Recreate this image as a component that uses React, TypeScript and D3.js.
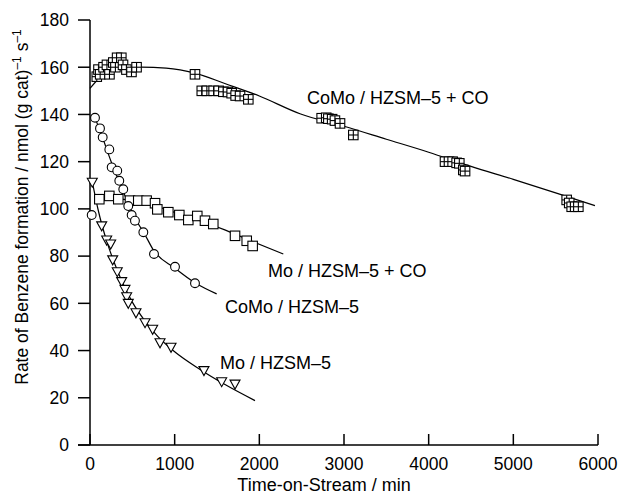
import React from "react";
import * as d3 from "d3";

// ---- Data (Time-on-Stream in min, Rate in nmol (g cat)^-1 s^-1) ----
const xTicks = [0, 1000, 2000, 3000, 4000, 5000, 6000];
const yTicks = [0, 20, 40, 60, 80, 100, 120, 140, 160, 180];

const comoCOPoints: [number, number][] = [
  [80, 156], [100, 159], [120, 157], [160, 160], [200, 161], [230, 157],
  [275, 162], [300, 160], [320, 164], [370, 164], [390, 161], [430, 159],
  [490, 158], [550, 160],
  [1240, 157], [1320, 150], [1380, 150], [1460, 150], [1520, 150], [1575, 149.6],
  [1630, 149.5], [1673, 149], [1720, 148], [1772, 147.8], [1870, 146.4],
  [2736, 138.4], [2790, 138.6], [2815, 138.2], [2860, 138], [2893, 137.4], [2953, 136.2],
  [3110, 131.3],
  [4193, 120], [4240, 120], [4283, 120], [4330, 119.5], [4362, 119.3], [4409, 116.5], [4430, 116],
  [5630, 103.8], [5660, 102.5], [5689, 100.9], [5730, 100.9], [5768, 100.9],
];
const comoCOFit: [number, number][] = [
  [0, 151], [100, 155], [300, 158.5], [600, 160], [900, 159.6], [1240, 157.5],
  [1600, 153], [2000, 147.8], [2480, 140.3], [3000, 135], [3500, 129.5],
  [4000, 124], [4500, 118], [5000, 112.5], [5500, 106.8], [5964, 101.4],
];

const moCOPoints: [number, number][] = [
  [110, 104.1], [228, 105.5], [334, 104.1], [472, 103.5], [570, 103.5], [669, 103.5],
  [768, 102.4], [795, 99.8], [925, 98.6], [1055, 97.4], [1161, 95.3], [1267, 97],
  [1358, 95], [1456, 93.6], [1713, 88.6], [1851, 86.5], [1921, 84.3],
];
const moCOFit: [number, number][] = [
  [100, 105], [400, 104], [700, 102], [1000, 98.5], [1300, 95], [1600, 91],
  [1900, 86.5], [2283, 80.9],
];

const comoPoints: [number, number][] = [
  [20, 97.4], [59, 138.6], [118, 134.1], [150, 130.3], [228, 125.2], [256, 117.6],
  [322, 116.2], [346, 111.9], [393, 108.3], [452, 101.2], [492, 97.4], [531, 95],
  [630, 90.1], [756, 80.9], [1004, 75.5], [1240, 68.5],
];
const comoFit: [number, number][] = [
  [50, 139.5], [150, 130], [250, 120], [350, 111], [450, 102.5], [550, 95],
  [650, 89], [750, 82.5], [1000, 75], [1250, 68.5], [1496, 64],
];

const moPoints: [number, number][] = [
  [27, 111.3], [138, 92.8], [197, 86.8], [244, 85.1], [268, 78.4], [322, 73.4],
  [374, 69.2], [413, 65.9], [433, 62.8], [452, 60], [543, 56], [650, 51.8],
  [740, 49], [827, 43.3], [957, 41.4], [1346, 31.5], [1555, 26.8], [1713, 25.8],
];
const moFit: [number, number][] = [
  [30, 111], [100, 99], [200, 86], [300, 76], [400, 67.5], [500, 60.5],
  [650, 52.5], [800, 46], [1000, 39.5], [1300, 32], [1600, 25.5], [1949, 18.8],
];

const seriesLabels = [
  { text: "CoMo / HZSM–5 + CO", x: 2563, y: 144.6 },
  { text: "Mo / HZSM–5 + CO", x: 2102, y: 71.2 },
  { text: "CoMo / HZSM–5", x: 1594, y: 56.1 },
  { text: "Mo / HZSM–5", x: 1535, y: 32.2 },
];

const FONT = "'Liberation Sans', Arial, Helvetica, sans-serif";

export default function App() {
  const W = 622, H = 495;
  const x = d3.scaleLinear().domain([0, 6000]).range([90, 598]);
  const y = d3.scaleLinear().domain([0, 180]).range([445, 20]);
  const line = d3
    .line<[number, number]>()
    .x((d) => x(d[0]))
    .y((d) => y(d[1]))
    .curve(d3.curveMonotoneX);

  const sq = 9.5;
  const tri = 5;

  return (
    <svg
      width={W}
      height={H}
      style={{ position: "absolute", left: 0, top: 0, background: "#fff" }}
      fontFamily={FONT}
    >
      <rect width={W} height={H} fill="#fff" />
      {/* fit lines */}
      <g fill="none" stroke="#000" strokeWidth={1.2}>
        <path d={line(comoCOFit) || ""} />
        <path d={line(moCOFit) || ""} />
        <path d={line(comoFit) || ""} />
        <path d={line(moFit) || ""} />
      </g>
      {/* axes */}
      <g stroke="#000" strokeWidth={1.5}>
        <line x1={x(0)} x2={x(0)} y1={y(180)} y2={y(0)} />
        <line x1={78} x2={x(6000)} y1={y(0)} y2={y(0)} />
        {yTicks.map((t) => (
          <line key={"yt" + t} x1={78} x2={x(0)} y1={y(t)} y2={y(t)} />
        ))}
        {xTicks.map((t) => (
          <line key={"xt" + t} x1={x(t)} x2={x(t)} y1={y(0)} y2={y(0) - 11} />
        ))}
      </g>
      <g fontSize={17.5} fill="#000">
        {yTicks.map((t) => (
          <text key={"yl" + t} x={69} y={y(t)} dy="0.36em" textAnchor="end">
            {t}
          </text>
        ))}
        {xTicks.map((t) => (
          <text key={"xl" + t} x={x(t)} y={470} textAnchor="middle">
            {t}
          </text>
        ))}
      </g>
      <text x={(x(0) + x(6000)) / 2 - 20} y={491} fontSize={18} textAnchor="middle">
        Time-on-Stream / min
      </text>
      <text
        transform="translate(28,207) rotate(-90)"
        fontSize={17.5}
        textAnchor="middle"
      >
        Rate of Benzene formation / nmol (g cat)
        <tspan dy={-7} fontSize={12}>–1</tspan>
        <tspan dy={7}> s</tspan>
        <tspan dy={-7} fontSize={12}>–1</tspan>
      </text>
      {/* markers */}
      <g fill="#fff" stroke="#000" strokeWidth={1.1}>
        {comoCOPoints.map((d, i) => (
          <g key={"cc" + i} transform={`translate(${x(d[0])},${y(d[1])})`}>
            <rect x={-sq / 2} y={-sq / 2} width={sq} height={sq} />
            <line x1={0} x2={0} y1={-sq / 2} y2={sq / 2} />
            <line x1={-sq / 2} x2={sq / 2} y1={0} y2={0} />
          </g>
        ))}
        {moCOPoints.map((d, i) => (
          <rect key={"mc" + i} x={x(d[0]) - sq / 2} y={y(d[1]) - sq / 2} width={sq} height={sq} />
        ))}
        {comoPoints.map((d, i) => (
          <circle key={"c" + i} cx={x(d[0])} cy={y(d[1])} r={4.4} />
        ))}
        {moPoints.map((d, i) => {
          const cx = x(d[0]), cy = y(d[1]);
          return (
            <path
              key={"m" + i}
              d={`M${cx - tri},${cy - tri * 0.8} L${cx + tri},${cy - tri * 0.8} L${cx},${cy + tri} Z`}
            />
          );
        })}
      </g>
      <g fontSize={18} fill="#000">
        {seriesLabels.map((l) => (
          <text key={l.text} x={x(l.x)} y={y(l.y)}>
            {l.text}
          </text>
        ))}
      </g>
    </svg>
  );
}
